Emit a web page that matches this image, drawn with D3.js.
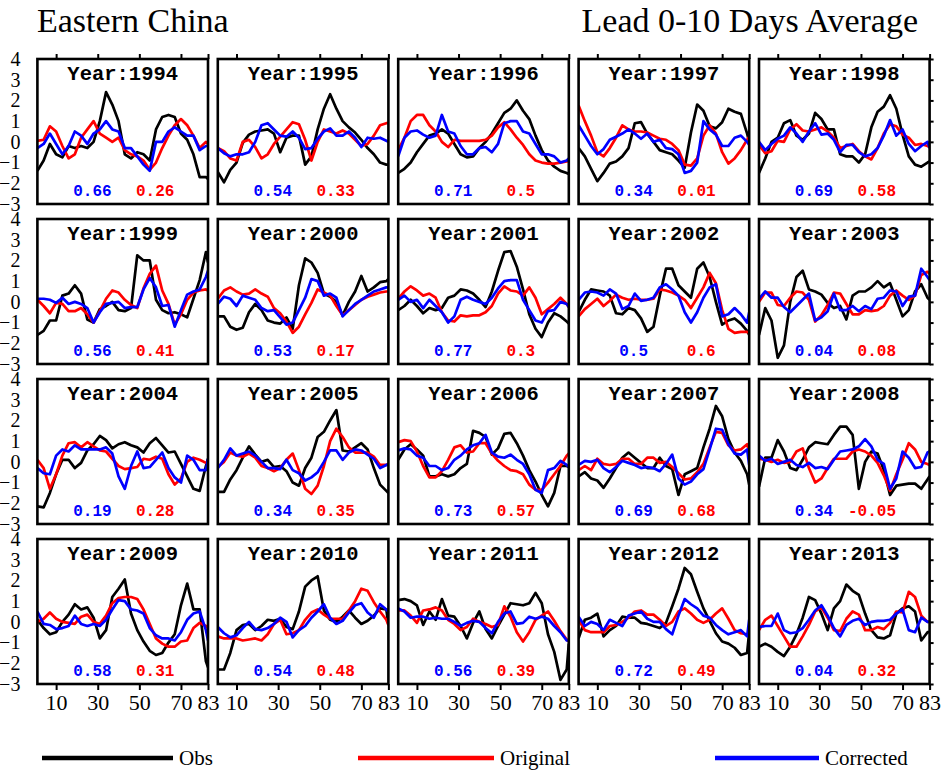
<!DOCTYPE html>
<html><head><meta charset="utf-8">
<script src="https://cdn.jsdelivr.net/npm/d3@7"></script>
<style>body{margin:0;background:#fff}svg{display:block}</style>
</head><body><svg id="c" width="941" height="770"></svg>
<script>
// ---------------- data ----------------
const days = [1,4,7,10,13,16,19,22,25,28,31,34,37,40,43,46,49,52,55,58,61,64,67,70,73,76,79,82,83];
const years = [1994,1995,1996,1997,1998,1999,2000,2001,2002,2003,2004,2005,2006,2007,2008,2009,2010,2011,2012,2013];
const xTicks = [10,30,50,70,83];
const yTicks = [-3,-2,-1,0,1,2,3,4];
const corrCorrected = ["0.66","0.54","0.71","0.34","0.69","0.56","0.53","0.77","0.5","0.04","0.19","0.34","0.73","0.69","0.34","0.58","0.54","0.56","0.72","0.04"];
const corrOriginal  = ["0.26","0.33","0.5","0.01","0.58","0.41","0.17","0.3","0.6","0.08","0.28","0.35","0.57","0.68","-0.05","0.31","0.48","0.39","0.49","0.32"];

const obs1994 = [-1.4,-0.9,-0.1,-0.6,-0.75,-0.2,-0.3,-0.2,-0.3,0.0,1.0,2.4,1.8,1.0,-0.6,-0.8,-0.5,-0.6,-0.9,0.6,1.2,1.3,1.2,0.4,0.1,-0.6,-1.7,-1.7,-1.8];
const org1994 = [0.05,0.1,0.75,0.5,-0.2,-0.8,-0.6,0.2,0.6,1.0,0.4,0.2,0.0,0.2,-0.4,-0.6,-0.7,-0.9,-1.35,-1.0,-0.3,0.3,0.8,1.1,0.8,0.3,-0.3,0.0,-0.1];
const cor1994 = [-0.3,-0.1,0.4,-0.1,-0.6,-0.2,0.5,0.3,-0.1,0.4,0.6,1.0,0.6,0.5,-0.3,-0.3,-0.7,-1.1,-1.4,0.0,0.0,0.5,0.7,0.5,0.3,0.3,-0.4,-0.2,-0.2];

const obs1995 = [-1.45,-1.95,-1.35,-1.0,-0.05,0.35,0.5,0.55,0.6,0.4,-0.5,0.2,0.3,0.3,-1.1,-0.7,0.6,1.6,2.3,1.6,1.0,0.7,0.45,0.1,-0.3,-0.6,-1.0,-1.1,-1.1];
const org1995 = [-0.3,-0.45,-0.8,-0.9,0.0,0.1,-0.25,-0.8,-0.6,-0.1,0.25,0.6,0.95,0.85,0.1,-0.9,0.0,0.6,0.5,0.4,0.55,0.4,0.1,-0.2,-0.1,0.3,0.8,0.9,0.9];
const cor1995 = [-0.3,-0.55,-0.7,-0.6,-0.6,-0.5,0.0,0.8,0.9,0.6,0.3,0.25,0.5,0.2,-0.35,-0.3,0.15,0.5,0.65,0.3,0.3,0.5,0.2,-0.25,0.2,0.15,0.2,0.05,0.0];

const obs1996 = [-1.5,-1.3,-1.0,-0.5,-0.1,0.3,0.4,0.6,0.4,-0.1,-0.6,-0.75,-0.7,-0.3,0.0,0.4,0.9,1.4,1.6,2.0,1.5,1.1,0.3,-0.4,-0.9,-1.2,-1.4,-1.5,-1.55];
const org1996 = [-0.4,0.2,1.0,1.3,1.3,0.8,0.5,0.0,-0.25,0.1,0.05,0.05,0.05,0.05,0.1,0.3,0.7,0.95,0.6,0.2,-0.15,-0.6,-0.9,-1.0,-1.05,-1.05,-1.0,-0.95,-0.9];
const cor1996 = [-0.7,0.2,0.5,0.55,0.35,0.2,0.3,1.3,0.5,0.4,-0.2,-0.6,-0.6,-0.3,-0.25,-0.5,-0.1,0.9,1.0,1.0,0.5,0.4,-0.1,-0.6,-0.6,-0.7,-1.0,-0.9,-0.8];

const obs1997 = [-0.3,-0.7,-1.3,-1.9,-1.5,-1.05,-0.95,-0.7,-0.3,0.9,0.95,0.4,0.0,-0.4,-0.5,-0.6,-0.9,-1.25,0.45,1.8,1.5,0.75,0.65,0.95,1.6,1.45,1.35,0.4,0.0];
const org1997 = [1.75,1.0,0.3,-0.5,-0.7,-0.3,0.2,0.8,0.6,0.5,0.5,0.45,0.3,0.15,0.1,-0.1,-0.4,-1.1,-1.15,-0.8,0.3,0.8,0.4,-0.5,-1.05,-0.8,-0.4,0.1,0.25];
const cor1997 = [0.8,0.3,-0.2,-0.6,-0.35,0.1,0.25,0.4,0.6,0.4,0.15,0.4,0.0,0.1,-0.3,-0.35,-0.6,-1.5,-1.4,-1.0,1.0,0.6,0.35,-0.2,-0.2,0.2,0.3,0.0,-0.15];

const obs1998 = [-1.5,-0.8,0.0,0.2,0.9,1.05,0.3,0.1,0.4,1.4,1.1,0.6,0.6,-0.6,-0.7,-0.7,-1.0,-0.6,0.7,1.45,1.7,2.25,1.6,0.35,-0.7,-1.1,-1.2,-1.0,-0.95];
const org1998 = [-0.15,-0.55,-0.45,0.05,0.0,0.6,0.85,0.55,0.5,0.6,0.7,0.5,0.2,-0.3,-0.2,-0.1,-0.45,-0.7,-0.85,-0.3,0.4,0.85,0.75,0.35,0.2,-0.15,-0.1,-0.2,-0.25];
const cor1998 = [0.0,-0.4,-0.1,0.15,0.3,0.7,0.4,0.0,0.5,0.9,0.35,0.4,0.1,-0.5,-0.15,-0.15,-0.5,-0.7,-0.6,-0.3,0.3,1.05,0.3,0.6,-0.1,-0.45,-0.2,0.0,-0.3];

const obs1999 = [-1.6,-1.4,-0.9,-0.9,0.3,0.4,0.8,0.4,-0.85,-1.0,-0.35,-0.2,0.0,-0.4,-0.45,-0.3,2.25,2.0,2.0,0.1,-0.4,-0.55,-0.5,-0.6,-0.75,0.15,1.05,2.4,1.9];
const org1999 = [0.1,-0.2,-0.55,-0.05,-0.1,-0.45,-0.45,-0.3,-0.6,-1.0,-0.45,0.15,0.55,0.45,0.1,-0.15,-0.3,0.65,1.35,1.75,0.55,-0.1,-1.1,-0.6,0.1,0.45,0.55,0.6,0.55];
const cor1999 = [0.15,0.15,0.1,-0.05,0.2,-0.1,0.0,-0.1,-0.3,-1.0,-0.5,-0.1,-0.05,0.0,-0.3,-0.25,-0.25,0.6,1.15,0.7,-0.2,-0.15,-1.2,-0.4,0.35,0.5,0.6,1.2,1.5];

const obs2000 = [-0.7,-0.7,-1.2,-1.35,-1.25,-0.5,-0.1,-0.4,-0.9,-1.0,-1.05,-0.75,-1.3,0.8,2.1,1.9,1.4,0.4,0.25,0.0,-0.65,0.0,0.5,1.25,0.5,0.7,0.95,1.0,1.1];
const org2000 = [0.15,0.55,0.7,0.5,0.35,0.4,0.6,0.4,0.25,-0.3,-0.55,-0.95,-1.5,-1.2,-0.6,-0.05,0.6,0.45,0.3,-0.2,-0.65,-0.4,-0.15,0.1,0.25,0.35,0.45,0.5,0.5];
const cor2000 = [-0.1,0.25,0.15,-0.2,0.3,0.2,0.1,-0.3,-0.45,-0.4,-0.75,-1.1,-1.0,-0.4,0.2,1.1,1.0,0.3,0.4,0.2,-0.7,-0.4,-0.1,0.1,0.3,0.5,0.6,0.7,0.7];

const obs2001 = [-0.4,-0.2,0.1,-0.2,-0.55,-0.3,-0.4,-0.3,0.2,0.3,0.6,0.55,0.4,0.1,-0.25,0.5,1.5,2.4,2.45,1.7,0.6,-0.6,-1.3,-1.7,-1.0,-0.55,-0.7,-0.95,-1.05];
const org2001 = [0.15,0.5,0.75,0.55,0.3,0.4,0.2,-0.5,-0.9,-0.95,-0.65,-0.7,-0.65,-0.65,-0.5,-0.2,0.4,0.75,0.55,0.5,0.3,0.7,0.2,-0.6,-0.35,-0.1,0.2,-0.1,-0.25];
const cor2001 = [0.1,0.3,0.0,0.1,-0.3,0.1,-0.2,-0.5,-1.0,-0.7,0.1,0.25,0.1,0.0,-0.1,0.2,0.65,1.0,1.05,1.05,0.1,-0.4,-0.9,-1.0,-0.45,-0.4,0.0,-0.1,-0.25];

const obs2002 = [-0.5,0.1,0.6,0.55,0.5,0.3,-0.55,-0.6,-0.3,-0.4,-0.8,-1.45,-1.2,0.3,1.6,1.6,0.8,0.5,0.2,1.6,1.9,1.2,0.0,-1.1,-0.9,-0.8,-1.05,-1.4,-1.6];
const org2002 = [-0.7,-0.35,-0.1,0.15,-0.2,0.05,0.35,0.2,0.1,0.15,0.1,0.1,0.15,0.6,0.55,0.45,0.3,0.1,-0.3,0.2,0.7,1.4,0.9,-0.4,-1.3,-1.5,-1.45,-1.45,-1.5];
const cor2002 = [0.1,0.45,0.5,0.45,0.3,0.6,0.4,-0.35,-0.2,0.4,0.05,0.1,0.2,0.7,0.85,0.6,0.3,-0.5,-1.0,-0.5,0.2,0.7,0.85,-0.7,-0.6,-0.3,-0.6,-1.0,-0.5];

const obs2003 = [-1.6,-0.3,-0.9,-2.7,-2.1,0.0,1.2,1.5,0.6,0.5,0.35,-0.05,-0.3,-0.2,-0.85,0.3,0.5,0.5,0.7,1.0,0.7,0.9,0.1,-0.7,-0.4,0.5,0.85,0.2,0.1];
const org2003 = [0.0,0.45,0.45,-0.15,-0.2,0.2,0.5,0.45,0.1,-0.95,-0.65,-0.15,0.45,0.4,-0.1,-0.6,-0.6,-0.4,-0.45,-0.4,-0.2,0.3,0.55,0.3,0.1,0.3,1.3,1.45,1.35];
const cor2003 = [0.15,0.5,0.2,0.2,-0.25,-0.5,-0.2,0.1,0.4,-0.9,-0.75,-0.45,0.4,-0.4,-0.4,-0.2,-0.45,-0.2,-0.35,0.15,0.2,0.55,0.5,-0.2,0.25,0.3,1.6,1.2,1.05];

const obs2004 = [-2.15,-2.2,-1.5,-0.6,0.1,0.1,-0.3,-0.05,0.55,0.85,1.25,1.05,0.65,0.85,0.95,0.8,0.7,0.45,0.9,1.15,0.8,0.45,0.5,-0.1,-0.7,-1.3,-1.4,-0.2,0.15];
const org2004 = [0.1,-0.3,-1.3,-0.6,0.3,0.9,0.95,0.7,0.95,0.75,0.55,0.5,0.15,-0.2,-0.35,-0.3,-0.25,0.15,0.1,0.25,0.15,-0.6,-1.1,-0.8,0.0,0.2,0.1,-0.05,0.0];
const cor2004 = [-0.3,-0.55,-0.6,0.3,0.6,0.5,0.8,0.6,0.6,0.6,0.6,0.7,0.4,-0.7,-1.3,-0.2,0.5,-0.3,-0.25,0.1,0.45,-0.3,-0.75,-1.0,0.3,0.1,-0.4,-0.4,0.15];

const obs2005 = [-1.45,-1.45,-0.85,-0.4,0.2,0.75,0.35,0.0,0.1,-0.25,-0.2,-0.45,-1.0,-1.15,-0.3,0.2,1.2,1.45,2.0,2.5,0.55,0.5,0.7,0.9,0.6,-0.3,-1.1,-1.4,-1.5];
const org2005 = [-0.25,0.0,0.45,0.3,0.25,0.4,0.2,-0.2,-0.3,-0.45,-0.3,0.1,0.4,-0.4,-1.3,-1.55,-1.15,-0.2,1.0,1.6,1.2,0.7,0.45,0.45,0.45,0.25,-0.15,-0.15,-0.1];
const cor2005 = [-0.3,0.1,0.65,0.3,0.4,0.5,0.3,0.0,-0.3,-0.3,-0.35,0.1,-0.4,-0.55,-0.9,-0.75,-0.5,0.0,0.55,0.55,0.1,0.45,0.6,0.55,0.35,0.15,-0.3,-0.15,-0.1];

const obs2006 = [0.1,0.6,0.85,0.6,0.3,-0.7,-0.7,-0.6,-0.7,-0.6,-0.3,-0.1,1.5,1.4,1.2,0.35,0.65,1.35,1.4,0.9,0.3,-0.4,-0.95,-1.6,-2.15,-1.5,-0.2,-0.2,-0.25];
const org2006 = [0.95,1.05,1.0,0.5,-0.2,-0.75,-0.75,-0.45,0.1,0.7,0.8,0.45,0.5,0.9,0.9,0.4,0.05,-0.2,-0.4,-0.45,-0.6,-1.1,-1.35,-1.35,-1.0,-0.6,-0.2,0.3,0.4];
const cor2006 = [0.55,0.65,0.6,0.3,0.2,-0.2,-0.2,-0.4,-0.3,0.1,0.3,0.6,0.8,0.9,1.3,0.45,0.25,0.2,0.35,0.1,-0.1,-0.6,-1.35,-1.5,-0.4,-0.3,0.05,-0.15,-0.25];

const obs2007 = [-0.7,-0.5,-0.8,-0.9,-1.25,-0.8,-0.3,0.2,0.45,0.2,-0.05,-0.3,-0.3,0.2,-0.2,-0.35,-1.6,-0.6,-0.45,-0.3,0.7,1.6,2.7,2.2,1.1,0.45,0.05,-0.6,-1.1];
const org2007 = [-0.4,-0.2,-0.4,0.15,-0.1,-0.15,-0.1,0.15,0.15,-0.1,-0.1,0.2,0.2,-0.05,0.0,-0.25,-0.55,-0.85,-0.8,-0.5,-0.1,0.7,1.45,1.4,0.8,0.55,0.6,0.85,0.5];
const cor2007 = [-0.15,0.05,0.0,0.1,-0.3,-0.5,-0.25,0.05,-0.05,-0.15,-0.3,-0.25,-0.3,-0.45,-0.1,0.35,-0.8,-1.1,-0.95,-0.6,-0.35,0.6,1.6,1.55,0.85,0.4,0.35,0.6,-0.15];

const obs2008 = [-1.2,0.2,0.2,1.05,0.5,-0.3,-0.4,0.1,0.7,0.95,0.9,0.85,1.3,1.7,1.7,1.3,-1.3,0.0,0.5,0.4,-0.4,-1.6,-1.15,-1.1,-1.05,-1.05,-1.3,-0.85,-0.7];
const org2008 = [0.15,0.1,0.0,0.1,-0.05,0.0,0.5,0.65,-0.3,-1.0,-0.8,-0.3,0.15,0.15,0.15,0.5,0.6,0.5,0.3,-0.05,-0.65,-1.4,-0.6,0.1,0.9,0.6,0.0,-0.1,-0.15];
const cor2008 = [0.3,0.05,0.15,-0.1,0.0,0.1,-0.15,-0.25,-0.05,-0.3,-0.25,-0.35,0.1,0.5,0.55,0.6,0.75,1.1,0.75,0.1,-0.1,-1.3,-0.8,0.5,0.2,-0.3,-0.25,0.45,0.5];

const obs2009 = [0.1,-0.3,-0.6,-0.5,0.0,0.35,0.85,0.6,0.7,0.2,-0.8,-0.4,1.2,1.6,2.05,0.4,-0.4,-0.95,-1.4,-1.6,-1.5,-1.0,-0.6,0.8,1.85,0.6,0.6,-1.9,-2.2];
const org2009 = [0.0,0.15,0.45,0.15,0.0,-0.05,-0.1,0.25,0.35,0.0,-0.1,0.3,0.9,1.15,1.2,1.2,1.1,0.6,-0.1,-0.8,-1.05,-1.2,-1.2,-0.95,-0.9,-0.3,-0.05,-0.2,-0.3];
const cor2009 = [0.5,-0.1,-0.15,-0.35,-0.3,-0.2,0.3,-0.1,-0.2,-0.1,-0.2,0.1,0.6,1.05,1.0,0.6,0.55,0.4,-0.3,-0.65,-0.8,-0.8,-0.9,-0.5,0.1,0.4,0.5,-0.4,-0.9];

const obs2010 = [-2.3,-2.3,-1.5,-0.4,-0.15,-0.1,-0.4,-0.2,0.1,0.05,0.15,-0.25,-0.35,0.5,1.7,2.0,2.2,0.55,0.1,0.0,0.25,0.55,0.2,-0.1,0.05,0.3,0.65,0.6,-0.15];
const org2010 = [-0.7,-0.8,-0.8,-0.8,-0.9,-0.85,-0.8,-0.9,-0.6,-0.1,0.1,-0.6,-0.55,-0.4,0.1,0.45,0.6,0.35,0.15,0.15,0.15,0.55,1.0,1.6,1.5,0.95,0.5,0.1,-0.15];
const cor2010 = [-0.25,-0.55,-0.75,-0.65,-0.3,0.0,-0.35,-0.4,-0.3,-0.1,0.2,0.0,-0.75,-0.4,-0.2,0.2,0.5,0.85,0.2,-0.1,0.05,0.45,0.8,0.9,0.45,0.2,0.85,0.6,0.5];

const obs2011 = [1.05,1.1,1.0,0.8,-0.15,0.5,0.1,1.1,0.3,0.25,-0.2,-0.8,-0.05,0.5,-0.35,-0.8,-0.2,0.35,0.9,0.85,0.8,0.9,1.4,0.9,-0.6,-1.45,-2.8,-2.3,-1.05];
const org2011 = [0.55,0.55,0.3,-0.05,0.55,0.6,0.7,0.55,0.1,-0.1,-0.4,-0.25,0.15,0.0,-0.1,-0.25,-0.15,0.75,0.25,-0.5,-0.95,-0.5,0.1,0.3,0.5,0.05,-0.45,-0.85,-0.95];
const cor2011 = [0.65,0.5,0.2,0.25,0.25,0.15,0.2,0.15,0.15,0.0,-0.2,-0.05,0.05,0.0,-0.3,-0.55,0.0,0.4,0.5,-0.1,-0.05,0.25,0.15,0.25,0.15,-0.2,-0.5,-0.9,-0.9];

const obs2012 = [-0.8,0.1,0.2,0.4,-0.7,-0.4,-0.2,0.25,0.2,0.2,-0.05,-0.1,-0.2,-0.3,-0.05,0.75,1.6,2.6,2.3,1.45,0.65,0.05,-0.55,-0.95,-1.05,-1.25,-1.6,-1.5,-0.5];
const org2012 = [0.1,-0.4,-0.5,-0.5,-0.5,-0.2,-0.15,0.0,0.2,0.5,0.55,0.35,0.35,0.1,-0.2,0.0,0.5,0.65,0.4,0.1,-0.05,0.1,0.4,0.65,0.15,-0.4,-0.55,-0.6,-0.65];
const cor2012 = [0.25,-0.2,0.0,-0.1,-0.4,0.1,-0.05,-0.2,0.3,0.4,0.5,0.15,0.0,0.0,-0.35,-0.6,0.3,1.1,0.85,0.65,0.3,0.2,-0.15,-0.4,-0.6,-0.5,-0.4,-0.7,0.1];

const obs2013 = [-1.2,-1.05,-1.2,-1.45,-1.65,-1.2,-0.6,0.2,1.2,1.05,0.4,-0.4,0.65,1.0,1.8,1.5,1.3,0.4,-0.4,-0.75,-0.8,-0.65,0.4,0.65,0.75,0.5,-0.9,-0.5,-0.5];
const org2013 = [-0.4,0.1,0.3,-0.2,-0.7,-1.2,-1.2,-0.7,-0.15,0.5,0.7,0.2,-0.4,-0.45,0.15,0.5,0.35,-0.4,-0.4,-0.25,-0.35,-0.05,0.5,0.45,1.45,1.2,0.3,0.0,0.0];
const cor2013 = [-0.25,-0.2,-0.2,0.4,-0.4,-0.55,-0.5,-0.3,0.1,0.55,0.8,0.3,-0.3,-0.7,-0.15,0.05,0.15,-0.15,0.0,0.05,0.05,0.1,0.4,0.6,-0.4,-0.5,0.2,0.0,0.0];

const obsSeries = [obs1994,obs1995,obs1996,obs1997,obs1998,obs1999,obs2000,obs2001,obs2002,obs2003,obs2004,obs2005,obs2006,obs2007,obs2008,obs2009,obs2010,obs2011,obs2012,obs2013];
const orgSeries = [org1994,org1995,org1996,org1997,org1998,org1999,org2000,org2001,org2002,org2003,org2004,org2005,org2006,org2007,org2008,org2009,org2010,org2011,org2012,org2013];
const corSeries = [cor1994,cor1995,cor1996,cor1997,cor1998,cor1999,cor2000,cor2001,cor2002,cor2003,cor2004,cor2005,cor2006,cor2007,cor2008,cor2009,cor2010,cor2011,cor2012,cor2013];

// ---------------- layout ----------------
const svg = d3.select("#c");
const W = 170.6, H = 145;
const colX = c => 37.4 + c * 180.4;
const rowY = r => 59 + r * 160;
const x = d3.scaleLinear().domain([1, 83]).range([0, W]);
const y = d3.scaleLinear().domain([-3, 4]).range([H, 0]);
const serif = "'Liberation Serif','Times New Roman',Times,serif";
const mono = "'Liberation Mono','Courier New',Courier,monospace";

const defs = svg.append("defs");
defs.append("clipPath").attr("id", "pclip").append("rect").attr("x", 0).attr("y", 0).attr("width", W).attr("height", H);

const line = d3.line().x((d, i) => x(days[i])).y(d => y(d));

years.forEach((yr, k) => {
  const r = Math.floor(k / 5), c = k % 5;
  const g = svg.append("g").attr("transform", `translate(${colX(c)},${rowY(r)})`);
  const lg = g.append("g").attr("clip-path", "url(#pclip)");
  lg.append("path").attr("d", line(obsSeries[k])).attr("fill", "none").attr("stroke", "#000").attr("stroke-width", 2.7).attr("stroke-linejoin", "round");
  lg.append("path").attr("d", line(orgSeries[k])).attr("fill", "none").attr("stroke", "#ff0000").attr("stroke-width", 2.7).attr("stroke-linejoin", "round");
  lg.append("path").attr("d", line(corSeries[k])).attr("fill", "none").attr("stroke", "#0000ff").attr("stroke-width", 2.7).attr("stroke-linejoin", "round");

  // axes
  if (r === 0) {
    const a = g.append("g").call(d3.axisTop(x).tickValues(xTicks).tickSize(5).tickSizeOuter(0).tickFormat(""));
    a.select(".domain").remove();
    a.selectAll("line").attr("stroke-width", 2);
  }
  if (r === 3) {
    const a = g.append("g").attr("transform", `translate(0,${H})`)
      .call(d3.axisBottom(x).tickValues(xTicks).tickSize(6).tickSizeOuter(0).tickPadding(4));
    a.select(".domain").remove();
    a.selectAll("line").attr("stroke-width", 2);
    a.selectAll("text").attr("font-family", serif).attr("font-size", 22).attr("fill", "#000");
  }
  if (c === 0) {
    const a = g.append("g").call(d3.axisLeft(y).tickValues(yTicks).tickSize(0).tickPadding(17).tickFormat(d3.format("d")));
    a.select(".domain").remove();
    a.selectAll("text").attr("font-family", serif).attr("font-size", 20).attr("fill", "#000");
  }
  if (c === 4) {
    const a = g.append("g").attr("transform", `translate(${W},0)`).call(d3.axisRight(y).tickValues(yTicks).tickSize(4).tickSizeOuter(0).tickFormat(""));
    a.select(".domain").remove();
    a.selectAll("line").attr("stroke-width", 2);
  }

  g.append("rect").attr("width", W).attr("height", H).attr("fill", "none").attr("stroke", "#000").attr("stroke-width", 2.6);

  g.append("text").attr("x", W / 2).attr("y", 21).attr("text-anchor", "middle")
    .attr("font-family", mono).attr("font-weight", "bold").attr("font-size", 20.5).text("Year:" + yr);
  g.append("text").attr("x", 55).attr("y", 137).attr("text-anchor", "middle").attr("fill", "#0000ff")
    .attr("font-family", mono).attr("font-weight", "bold").attr("font-size", 16).text(corrCorrected[k]);
  g.append("text").attr("x", 137).attr("y", 137).attr("text-anchor", "end").attr("fill", "#ff0000")
    .attr("font-family", mono).attr("font-weight", "bold").attr("font-size", 16).text(corrOriginal[k]);
});

// titles
svg.append("text").attr("x", 37).attr("y", 32).attr("font-family", serif).attr("font-size", 34).text("Eastern China");
svg.append("text").attr("x", 918).attr("y", 32).attr("text-anchor", "end").attr("font-family", serif).attr("font-size", 34).text("Lead 0-10 Days Average");

// legend
const legendNames = ["Obs", "Original", "Corrected"];
const legendColors = ["#000", "#ff0000", "#0000ff"];
const legendX0 = [42, 358, 715];
const legendX1 = [173, 494, 819];
legendNames.forEach((n, i) => {
  svg.append("line").attr("x1", legendX0[i]).attr("x2", legendX1[i]).attr("y1", 758).attr("y2", 758)
    .attr("stroke", legendColors[i]).attr("stroke-width", 4.5);
  svg.append("text").attr("x", legendX1[i] + 6).attr("y", 765).attr("font-family", serif).attr("font-size", 21).text(n);
});
</script></body></html>
